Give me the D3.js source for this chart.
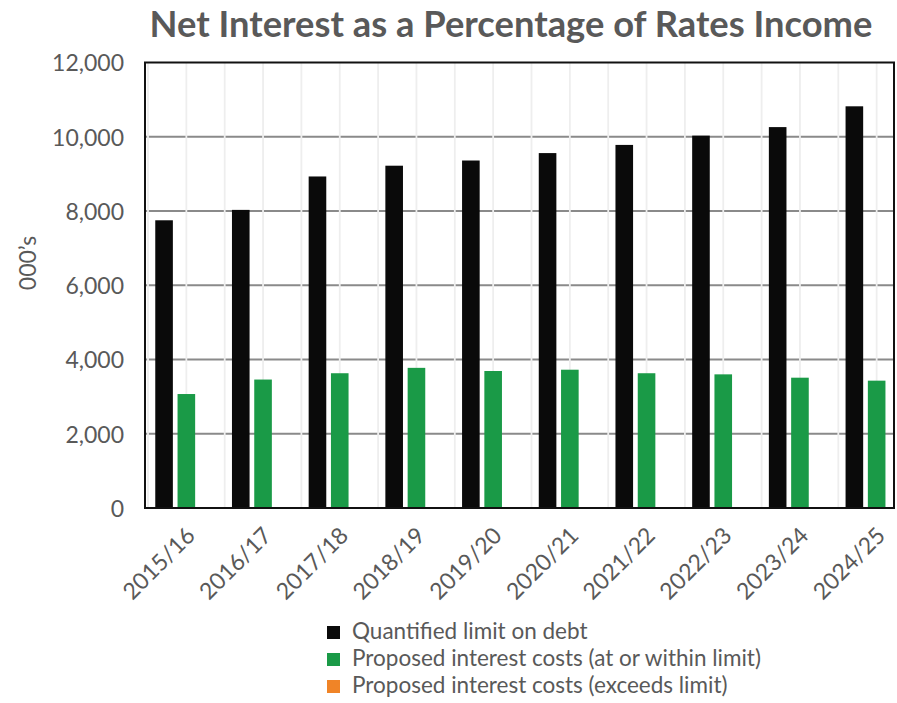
<!DOCTYPE html>
<html>
<head>
<meta charset="utf-8">
<script src="https://cdn.jsdelivr.net/npm/d3@7"></script>
<style>
  html, body { margin: 0; padding: 0; background: #ffffff; }
  svg { display: block; }
  text { font-family: Lato, "Open Sans", sans-serif; fill: #595959; }
</style>
</head>
<body>
<svg id="chart" width="897" height="703"></svg>
<script>
// Financial years on the category axis
const categories = ["2015/16", "2016/17", "2017/18", "2018/19", "2019/20",
                    "2020/21", "2021/22", "2022/23", "2023/24", "2024/25"];

// Values in thousands
const quantifiedLimit = [7750, 8030, 8930, 9220, 9360, 9560, 9780, 10030, 10260, 10820];
const interestWithinLimit = [3070, 3460, 3630, 3775, 3690, 3725, 3630, 3600, 3510, 3430];
const interestExceedsLimit = [0, 0, 0, 0, 0, 0, 0, 0, 0, 0];

const seriesNames = ["Quantified limit on debt",
                     "Proposed interest costs (at or within limit)",
                     "Proposed interest costs (exceeds limit)"];
const seriesColors = ["#0a0a0a", "#1a9a47", "#f08427"];

const yTicks = [0, 2000, 4000, 6000, 8000, 10000, 12000];

const titleText = "Net Interest as a Percentage of Rates Income";
const yAxisTitle = "000\u2019s";

const svg = d3.select("#chart");

// Plot frame
const frame = { left: 145, right: 894, top: 62.5, bottom: 508 };

const y = d3.scaleLinear().domain([0, 12000]).range([frame.bottom, frame.top]);

const x = d3.scaleBand().domain(categories).range([148, 915]).paddingInner(0).paddingOuter(0);
const xSeries = d3.scaleBand().domain(d3.range(3)).range([0, x.bandwidth()])
  .paddingInner(0.21).paddingOuter(0.326);

// Horizontal gridlines
svg.append("g")
  .selectAll("line")
  .data(yTicks.filter(v => v > 0 && v < 12000))
  .join("line")
  .attr("x1", frame.left).attr("x2", frame.right)
  .attr("y1", d => y(d)).attr("y2", d => y(d))
  .attr("stroke", "#8a8a8a").attr("stroke-width", 2);

// Faint vertical guides every half category
const halfSteps = d3.range(0, categories.length * 2 + 1)
  .map(i => x.range()[0] + i * x.step() / 2)
  .filter(px => px > frame.left + 1 && px < frame.right - 1);
svg.append("g")
  .selectAll("line")
  .data(halfSteps)
  .join("line")
  .attr("x1", d => d).attr("x2", d => d)
  .attr("y1", frame.top).attr("y2", frame.bottom)
  .attr("stroke", "#eeeeee").attr("stroke-width", 1.8);

// Bars
const rows = categories.map((c, i) => ({
  cat: c,
  vals: [quantifiedLimit[i], interestWithinLimit[i], interestExceedsLimit[i]]
}));

svg.append("clipPath").attr("id", "plotClip")
  .append("rect")
  .attr("x", frame.left).attr("y", frame.top)
  .attr("width", frame.right - frame.left).attr("height", frame.bottom - frame.top);

const groups = svg.append("g").attr("clip-path", "url(#plotClip)")
  .selectAll("g")
  .data(rows)
  .join("g")
  .attr("transform", d => `translate(${x(d.cat)},0)`);

groups.selectAll("rect")
  .data(d => d.vals.map((v, k) => ({ k, v })))
  .join("rect")
  .attr("x", d => xSeries(d.k))
  .attr("width", xSeries.bandwidth())
  .attr("y", d => y(d.v))
  .attr("height", d => y(0) - y(d.v))
  .attr("fill", d => seriesColors[d.k]);

// Frame around the plot area
svg.append("rect")
  .attr("x", frame.left).attr("y", frame.top)
  .attr("width", frame.right - frame.left).attr("height", frame.bottom - frame.top)
  .attr("fill", "none").attr("stroke", "#111111").attr("stroke-width", 2);

// Y axis labels
const yAxis = d3.axisLeft(y).tickValues(yTicks).tickSize(0).tickPadding(0)
  .tickFormat(d3.format(","));
const yG = svg.append("g").attr("transform", `translate(124,0)`).call(yAxis);
yG.select(".domain").remove();
yG.selectAll("text")
  .attr("font-size", 23)
  .attr("dy", "0.36em")
  .style("font-family", "Lato, 'Open Sans', sans-serif")
  .attr("fill", "#595959");

// X axis labels, rotated
const xAxis = d3.axisBottom(x).tickSize(0).tickPadding(0);
const xG = svg.append("g").call(xAxis);
xG.select(".domain").remove();
xG.selectAll(".tick").attr("transform", null);
xG.selectAll(".tick text")
  .attr("font-size", 23)
  .attr("text-anchor", "end")
  .attr("y", null).attr("dy", null)
  .style("font-family", "Lato, 'Open Sans', sans-serif")
  .attr("fill", "#595959")
  .attr("transform", d => `translate(${x(d) + x.bandwidth() / 2 + 10},537) rotate(-45)`);

// Y axis title
svg.append("text")
  .attr("transform", "translate(36,263) rotate(-90)")
  .attr("text-anchor", "middle")
  .attr("font-size", 23)
  .text(yAxisTitle);

// Title, fitted to its line width
const title = svg.append("text")
  .attr("x", 511).attr("y", 37)
  .attr("text-anchor", "middle")
  .attr("font-weight", "bold")
  .attr("font-size", 31)
  .text(titleText);
const tw = title.node().getComputedTextLength();
if (tw > 0) title.attr("font-size", 31 * 723 / tw);

// Legend
const legend = svg.append("g").attr("transform", "translate(327,626)");
const li = legend.selectAll("g")
  .data(seriesNames)
  .join("g")
  .attr("transform", (d, i) => `translate(0,${i * 27})`);
li.append("rect")
  .attr("width", 13).attr("height", 13)
  .attr("fill", (d, i) => seriesColors[i]);
li.append("text")
  .attr("x", 25).attr("y", 13)
  .attr("font-size", 22.5)
  .text(d => d);
</script>
</body>
</html>
